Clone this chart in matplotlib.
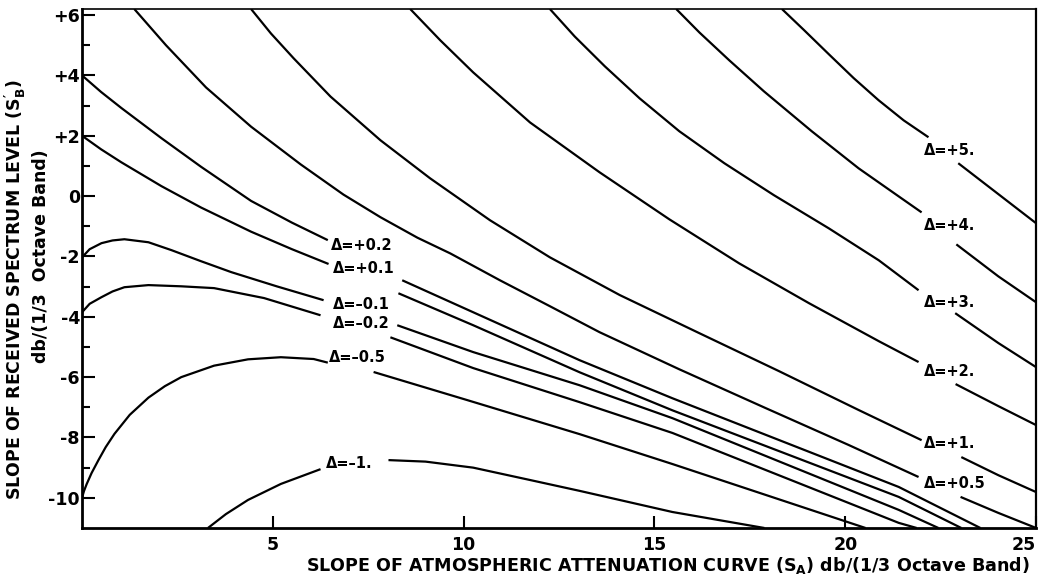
import numpy as np
import matplotlib
matplotlib.use("Agg")
import matplotlib.pyplot as plt

nan = np.nan

# constant-Delta curves: S_A (x) against S_B' (y); nan = gap left for the label
sa_p5 = [18.34, 18.92, 19.57, 20.22, 20.87, 21.53, 22.18, nan, 22.96, 25.0]
sb_p5 = [6.2, 5.50, 4.70, 3.91, 3.18, 2.51, 1.95, nan, 1.09, -0.90]

sa_p4 = [15.57, 16.18, 16.96, 17.87, 19.12, 20.35, 21.40, 22.00, nan, 22.91, 24.01, 25.0]
sb_p4 = [6.2, 5.42, 4.50, 3.47, 2.15, 0.92, -0.01, -0.54, nan, -1.60, -2.66, -3.52]

sa_p3 = [12.26, 12.91, 13.70, 14.61, 15.65, 16.83, 18.13, 19.57, 20.88, 21.92, nan, 22.88, 24.01, 25.0]
sb_p3 = [6.2, 5.29, 4.30, 3.24, 2.15, 1.09, 0.03, -1.07, -2.13, -3.12, nan, -3.88, -4.87, -5.67]

sa_p2 = [8.60, 9.39, 10.25, 11.74, 13.56, 15.39, 17.22, 19.05, 20.88, 21.92, nan, 22.89, 24.01, 25.0]
sb_p2 = [6.2, 5.16, 4.10, 2.44, 0.79, -0.77, -2.23, -3.55, -4.81, -5.50, nan, -6.23, -6.96, -7.59]

sa_p1 = [4.43, 4.95, 5.55, 6.51, 7.82, 9.12, 10.69, 12.26, 14.09, 16.17, 18.26, 20.35, 22.00,
         nan, 23.04, 24.01, 25.0]
sb_p1 = [6.2, 5.39, 4.56, 3.30, 1.85, 0.59, -0.80, -2.03, -3.28, -4.54, -5.80, -7.09, -8.09,
         nan, -8.65, -9.25, -9.81]

sa_p05 = [1.37, 2.2, 3.25, 4.43, 5.73, 6.85, 7.82, 8.79, 9.65, 10.95, 12.26, 13.56, 15.65,
          17.92, 20.09, 21.92, nan, 23.02, 24.01, 25.0]
sb_p05 = [6.2, 5.0, 3.6, 2.3, 1.05, 0.05, -0.70, -1.38, -1.90, -2.79, -3.65, -4.51, -5.74,
          -7.03, -8.25, -9.31, nan, -9.97, -10.50, -11.0]

sa_p02 = [0.0, 0.5, 1.03, 2.08, 3.12, 4.43, 5.5, 6.44, nan, 8.39, 10.25, 13.04, 15.47, 21.40, 23.54]
sb_p02 = [4.0, 3.45, 2.92, 1.92, 0.97, -0.16, -0.88, -1.46, nan, -2.79, -3.85, -5.44, -6.70, -9.64, -11.0]

sa_p01 = [0.0, 0.5, 1.03, 2.08, 3.12, 4.43, 5.5, 6.46, nan, 8.29, 10.25, 13.04, 15.47, 21.40, 23.04]
sb_p01 = [2.0, 1.55, 1.12, 0.33, -0.38, -1.18, -1.76, -2.25, nan, -3.22, -4.28, -5.84, -7.10, -9.97, -11.0]

sa_m01 = [0.0, 0.2, 0.51, 0.8, 1.11, 1.74, 2.34, 3.1, 3.91, 5.1, 6.33, nan,
          8.26, 10.25, 13.04, 15.47, 21.40, 22.44]
sb_m01 = [-2.03, -1.76, -1.56, -1.47, -1.43, -1.53, -1.79, -2.15, -2.52, -2.99, -3.45, nan,
          -4.28, -5.17, -6.27, -7.36, -10.40, -11.0]

sa_m02 = [0.0, 0.2, 0.51, 0.8, 1.11, 1.74, 2.60, 3.46, 4.77, 6.25, nan,
          8.08, 10.25, 13.04, 15.47, 21.40, 21.87]
sb_m02 = [-3.85, -3.57, -3.35, -3.16, -3.02, -2.95, -2.99, -3.05, -3.38, -3.95, nan,
          -4.68, -5.70, -6.83, -7.85, -10.83, -11.0]

sa_m05 = [0.0, 0.05, 0.12, 0.25, 0.43, 0.62, 0.85, 1.25, 1.74, 2.17, 2.60, 3.46, 4.35,
          5.21, 6.07, 6.44, nan, 7.64, 10.09, 13.04, 15.47, 18.00, 20.53]
sb_m05 = [-10.0, -9.78, -9.55, -9.18, -8.75, -8.32, -7.88, -7.25, -6.68, -6.30, -6.0, -5.62, -5.41,
          -5.34, -5.40, -5.52, nan, -5.83, -6.76, -7.89, -8.88, -9.94, -11.0]

sa_m1 = [3.30, 3.77, 4.35, 5.21, 6.25, nan, 8.03, 9.0, 10.25, 11.74, 13.04, 15.47, 17.88]
sb_m1 = [-11.0, -10.54, -10.07, -9.54, -9.05, nan, -8.75, -8.80, -9.0, -9.41, -9.77, -10.47, -11.0]

curve_labels = ["Δ=+5.", "Δ=+4.", "Δ=+3.", "Δ=+2.", "Δ=+1.", "Δ=+0.5",
                "Δ=+0.2", "Δ=+0.1", "Δ=–0.1", "Δ=–0.2", "Δ=–0.5", "Δ=–1."]
curves = [(sa_p5, sb_p5), (sa_p4, sb_p4), (sa_p3, sb_p3), (sa_p2, sb_p2),
          (sa_p1, sb_p1), (sa_p05, sb_p05), (sa_p02, sb_p02), (sa_p01, sb_p01),
          (sa_m01, sb_m01), (sa_m02, sb_m02), (sa_m05, sb_m05), (sa_m1, sb_m1)]
# where each label sits (left edge, vertical centre)
label_pos = [(22.05, 1.52), (22.05, -0.97), (22.05, -3.52), (22.05, -5.83),
             (22.05, -8.19), (22.05, -9.51),
             (6.52, -1.63), (6.57, -2.39), (6.57, -3.58), (6.57, -4.21),
             (6.47, -5.34), (6.40, -8.85)]

x_ticks = [5, 10, 15, 20, 25]
x_ticklabels = ["5", "10", "15", "20", "25"]
y_ticks = [6, 4, 2, 0, -2, -4, -6, -8, -10]
y_ticklabels = ["+6", "+4", "+2", "0", "-2", "-4", "-6", "-8", "-10"]
y_minor = [5, 3, 1, -1, -3, -5, -7, -9]

plt.rcParams["font.family"] = ["DejaVu Sans"]
plt.rcParams["font.weight"] = "bold"
plt.rcParams["mathtext.fontset"] = "custom"
plt.rcParams["mathtext.bf"] = "DejaVu Sans:bold"
plt.rcParams["mathtext.rm"] = "DejaVu Sans:bold"
plt.rcParams["mathtext.default"] = "bf"

fig = plt.figure(figsize=(10.41, 5.82), dpi=100)
ax = fig.add_axes([0.0788, 0.0928, 0.9165, 0.8917])

for (sa, sb) in curves:
    ax.plot(sa, sb, color="black", lw=1.6, solid_capstyle="butt", solid_joinstyle="round")

for txt, (x, y) in zip(curve_labels, label_pos):
    ax.text(x, y, txt, fontsize=10.5, fontweight="bold", ha="left", va="center")

ax.set_xlim(0, 25)
ax.set_ylim(-11, 6.2)

ax.set_xticks(x_ticks)
ax.set_xticklabels(x_ticklabels)
ax.set_yticks(y_ticks)
ax.set_yticklabels(y_ticklabels)
ax.set_yticks(y_minor, minor=True)
ax.tick_params(axis="x", direction="in", length=9, width=1.5, pad=6, labelsize=12.5)
ax.tick_params(axis="y", which="major", direction="in", length=9, width=1.5, pad=1.5, labelsize=12.5)
ax.tick_params(axis="y", which="minor", direction="in", length=6, width=1.5)
for lab in ax.get_xticklabels() + ax.get_yticklabels():
    lab.set_fontweight("bold")
# last x label sits flush against the right frame
ax.get_xticklabels()[-1].set_horizontalalignment("right")

ax.spines["left"].set_linewidth(2.0)
ax.spines["bottom"].set_linewidth(2.0)
ax.spines["top"].set_linewidth(1.2)
ax.spines["right"].set_linewidth(1.6)

fig.text(0.642, 0.029, r"SLOPE OF ATMOSPHERIC ATTENUATION CURVE (S$_A$) db/(1/3 Octave Band)",
         fontsize=12.6, fontweight="bold", ha="center", va="center")
fig.text(0.0145, 1 - 290 / 582, r"SLOPE OF RECEIVED SPECTRUM LEVEL (S$_B^{\prime}$)",
         fontsize=12.5, fontweight="bold", rotation=90, ha="center", va="center")
fig.text(0.039, 1 - 256 / 582, "db/(1/3  Octave Band)",
         fontsize=12.5, fontweight="bold", rotation=90, ha="center", va="center")

fig.savefig("out.png", dpi=100)
plt.close(fig)
